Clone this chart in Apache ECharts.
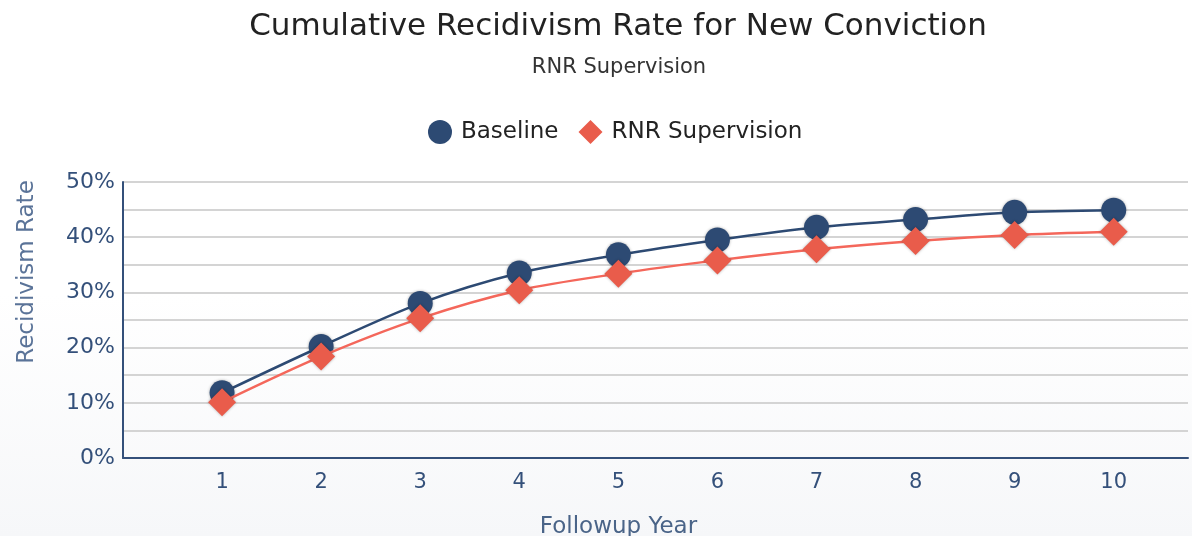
<!DOCTYPE html>
<html>
<head>
<meta charset="utf-8">
<script src="https://cdn.jsdelivr.net/npm/echarts@6/dist/echarts.min.js"></script>
<style>
html,body{margin:0;padding:0;background:#fff;}
#c{width:1192px;height:536px;}
</style>
</head>
<body>
<div id="c"></div>
<script>
var years = [1, 2, 3, 4, 5, 6, 7, 8, 9, 10];
var baseline = [11.8, 20.2, 28.0, 33.5, 36.8, 39.5, 41.8, 43.2, 44.5, 44.9];
var rnr = [10.1, 18.4, 25.3, 30.4, 33.4, 35.8, 37.8, 39.3, 40.4, 41.0];
var yTicks = [0, 10, 20, 30, 40, 50];

function pairs(xs, ys) { return xs.map(function (x, i) { return [x, ys[i]]; }); }

var chart = echarts.init(document.getElementById('c'));
var font = 'DejaVu Sans';
chart.setOption({
  backgroundColor: {
    type: 'linear', x: 0, y: 0, x2: 0, y2: 1,
    colorStops: [{offset: 0, color: '#ffffff'}, {offset: 0.55, color: '#ffffff'}, {offset: 1, color: '#f6f7f9'}]
  },
  animation: false,
  title: [{
    text: 'Cumulative Recidivism Rate for New Conviction',
    left: 613, top: 6, textAlign: 'center',
    textStyle: {fontFamily: font, fontSize: 31, fontWeight: 'normal', color: '#222'}
  }, {
    text: 'RNR Supervision',
    left: 614, top: 52, textAlign: 'center',
    textStyle: {fontFamily: font, fontSize: 21, fontWeight: 'normal', color: '#333'}
  }],
  legend: {
    top: 115, left: 423,
    itemWidth: 24, itemHeight: 24, itemGap: 20,
    textStyle: {fontFamily: font, fontSize: 23, color: '#222', padding: [0, 0, 0, 4]},
    data: [{name: 'Baseline', icon: 'circle'}, {name: 'RNR Supervision', icon: 'diamond'}]
  },
  grid: {left: 123, right: 4, top: 182, bottom: 78, containLabel: false, outerBoundsMode: 'none'},
  xAxis: {
    type: 'value', min: 0, max: 10.75, interval: 1,
    name: 'Followup Year', nameLocation: 'middle', nameGap: 58,
    nameTextStyle: {fontFamily: font, fontSize: 23, color: '#4a6488', padding: [0, 74, 0, 0]},
    axisLine: {show: true, lineStyle: {color: '#34507a', width: 2}},
    axisTick: {show: false},
    splitLine: {show: false},
    axisLabel: {
      fontFamily: font, fontSize: 21, color: '#34507a', margin: 14,
      formatter: function (v) { return years.indexOf(v) >= 0 ? String(v) : ''; }
    }
  },
  yAxis: {
    type: 'value', min: yTicks[0], max: yTicks[yTicks.length - 1], interval: 5,
    name: 'Recidivism Rate', nameLocation: 'middle', nameGap: 84,
    nameTextStyle: {fontFamily: font, fontSize: 23, color: '#5a7398', padding: [0, 0, 0, 96]},
    axisLine: {show: true, lineStyle: {color: '#34507a', width: 2}},
    axisTick: {show: false},
    splitLine: {show: true, lineStyle: {color: '#d4d4d4', width: 2}},
    axisLabel: {
      fontFamily: font, fontSize: 22, color: '#34507a', margin: 8,
      formatter: function (v) { return yTicks.indexOf(v) >= 0 ? v + '%' : ''; }
    }
  },
  series: [{
    name: 'Baseline', type: 'line', smooth: 0.3,
    data: pairs(years, baseline),
    symbol: 'circle', symbolSize: 25,
    lineStyle: {color: '#2d4a73', width: 2.5},
    itemStyle: {color: '#2d4a73', shadowColor: 'rgba(0,0,0,0.3)', shadowBlur: 3},
    z: 2
  }, {
    name: 'RNR Supervision', type: 'line', smooth: 0.3,
    data: pairs(years, rnr),
    symbol: 'diamond', symbolSize: 28,
    lineStyle: {color: '#f4675b', width: 2.5},
    itemStyle: {color: '#e95c4b', shadowColor: 'rgba(0,0,0,0.3)', shadowBlur: 3},
    z: 3
  }]
});
</script>
</body>
</html>
